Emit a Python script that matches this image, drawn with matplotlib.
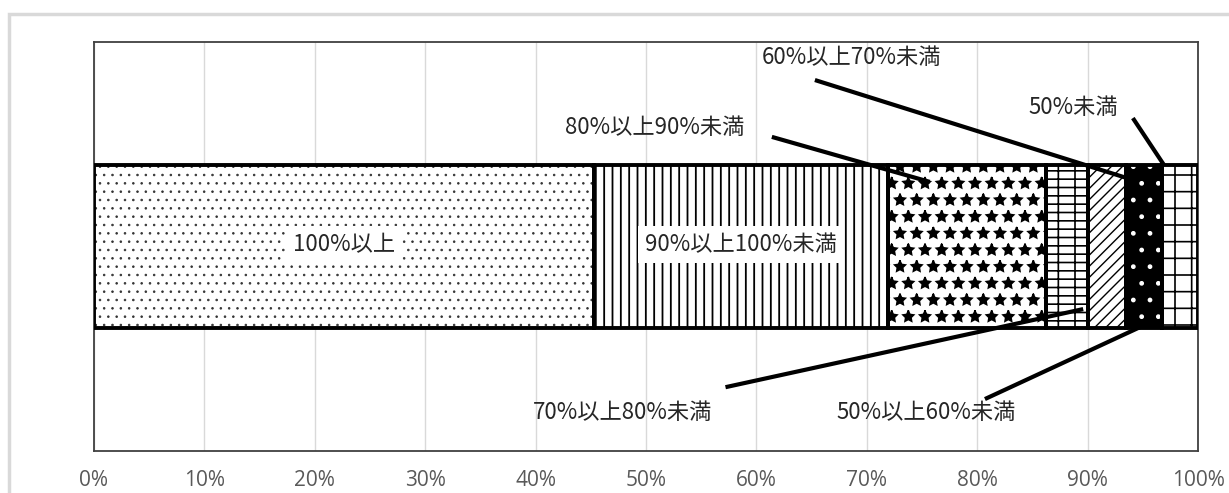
import matplotlib
matplotlib.use("Agg")
import matplotlib.pyplot as plt
from matplotlib.patches import Rectangle

plt.rcParams['font.family'] = ['Noto Sans CJK JP', 'DejaVu Sans']
plt.rcParams['hatch.linewidth'] = 1.2

categories = ["100%以上", "90%以上100%未満", "80%以上90%未満", "70%以上80%未満",
              "60%以上70%未満", "50%以上60%未満", "50%未満"]
values = [45.3, 26.6, 14.3, 3.8, 3.5, 3.2, 3.3]
tick_values = [0, 10, 20, 30, 40, 50, 60, 70, 80, 90, 100]
tick_labels = [f"{v}%" for v in tick_values]

hatches = ['..', '||', '*', '--|', '///', '.', '+']
hatch_lws = [0.6, 1.3, 1.2, 1.2, 1.0, 1.0, 1.2]
faces = ['white', 'white', 'white', 'white', 'white', 'black', 'white']
hatch_cols = ['#333333', 'black', 'black', 'black', 'black', 'white', 'black']

# label placement: (text x, text y, line start x, line start y, line end x, line end y)
outer_labels = {
    "80%以上90%未満": (50.8, 0.29, 61.4, 0.268, 75.7, 0.158),
    "60%以上70%未満": (68.6, 0.463, 65.3, 0.407, 93.6, 0.167),
    "50%未満": (88.7, 0.339, 94.1, 0.314, 96.9, 0.20),
    "70%以上80%未満": (47.9, -0.405, 57.2, -0.344, 89.6, -0.153),
    "50%以上60%未満": (75.4, -0.405, 80.7, -0.373, 95.0, -0.194),
}

W, H = 1229, 493
fig = plt.figure(figsize=(W / 100, H / 100), dpi=100)
ax = fig.add_axes([94 / W, (H - 451) / H, 1104 / W, 409 / H])

left = 0
for cat, v, h, hl, fc, hc in zip(categories, values, hatches, hatch_lws, faces, hatch_cols):
    bars = ax.barh(0, v, left=left, height=0.4, color=fc, edgecolor=hc, hatch=h,
                   linewidth=0, zorder=2)
    for b in bars:
        if hasattr(b, 'set_hatch_linewidth'):
            b.set_hatch_linewidth(hl)
    ax.barh(0, v, left=left, height=0.4, fill=False, edgecolor='black',
            linewidth=2.8, zorder=3)
    if cat in ("100%以上", "90%以上100%未満"):
        ax.text(left + v / 2, 0.005, cat, ha='center', va='center', fontsize=16,
                color='#262626', zorder=5,
                bbox=dict(boxstyle='square,pad=0.3', fc='white', ec='none'))
    left += v

for cat, (tx, ty, sx, sy, ex, ey) in outer_labels.items():
    ax.text(tx, ty, cat, ha='center', va='center', fontsize=16, color='#262626', zorder=5)
    ax.plot([sx, ex], [sy, ey], color='black', lw=3, solid_capstyle='butt', zorder=6)

ax.set_xlim(0, 100)
ax.set_ylim(-0.5, 0.5)
ax.set_xticks(tick_values)
ax.set_xticklabels(tick_labels, family=['Open Sans', 'DejaVu Sans'], fontsize=15,
                   color='#595959')
ax.set_yticks([])
ax.tick_params(axis='x', length=0, pad=14)
ax.grid(axis='x', color='#d9d9d9', lw=1, zorder=0)
ax.set_axisbelow(True)
for s in ax.spines.values():
    s.set_color('#404040')
    s.set_linewidth(1.3)

fig.patches.append(Rectangle((9 / W, -0.5), 2, (1 - 14 / H) + 0.5, transform=fig.transFigure,
                             fill=False, edgecolor='#d9d9d9', lw=2.5))

fig.savefig("out.png", dpi=100)
